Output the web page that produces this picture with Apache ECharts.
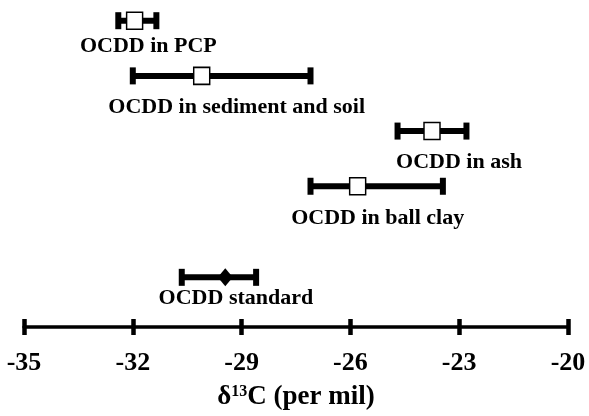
<!DOCTYPE html>
<html>
<head>
<meta charset="utf-8">
<script src="https://cdn.jsdelivr.net/npm/echarts@6/dist/echarts.min.js"></script>
<style>
html,body{margin:0;padding:0;background:#fff;}
#c{width:589px;height:416px;}
</style>
</head>
<body>
<div id="c"></div>
<script>
// ---- data ----
var categories = ['OCDD in PCP', 'OCDD in sediment and soil', 'OCDD in ash', 'OCDD in ball clay', 'OCDD standard'];
var lowValues  = [-32.40, -32.00, -24.70, -27.10, -30.65];
var meanValues = [-31.95, -30.10, -23.75, -25.80, -29.45];
var highValues = [-31.35, -27.10, -22.80, -23.45, -28.60];
var rowLevel   = [5, 4, 3, 2, 0.35];
var markerType = ['open', 'open', 'open', 'open', 'filled'];
var xTicks = [-35, -32, -29, -26, -23, -20];

// ---- layout / style ----
var FONT = '"Liberation Serif", "Times New Roman", serif';
var labelDx = [11, 15, 27, 1, 17];
var labelDy = [26, 31, 31, 32, 21];

var chart = echarts.init(document.getElementById('c'), null, {renderer: 'canvas'});

var barData = categories.map(function (c, i) {
  return [lowValues[i], highValues[i], rowLevel[i], i];
});
var openPts = [], filledPts = [];
categories.forEach(function (c, i) {
  if (markerType[i] === 'open') openPts.push([meanValues[i], rowLevel[i]]);
  else filledPts.push([meanValues[i], rowLevel[i]]);
});

function renderBar(params, api) {
  var lo = api.coord([api.value(0), api.value(2)]);
  var hi = api.coord([api.value(1), api.value(2)]);
  var idx = api.value(3);
  var y = lo[1];
  var capH = 17, capW = 6;
  var cx = (lo[0] + hi[0]) / 2;
  return {
    type: 'group',
    children: [
      {type: 'line', shape: {x1: lo[0], y1: y, x2: hi[0], y2: y}, style: {stroke: '#000', lineWidth: 6}},
      {type: 'rect', shape: {x: lo[0] - capW / 2, y: y - capH / 2, width: capW, height: capH}, style: {fill: '#000'}},
      {type: 'rect', shape: {x: hi[0] - capW / 2, y: y - capH / 2, width: capW, height: capH}, style: {fill: '#000'}},
      {type: 'text', x: cx + labelDx[idx], y: y + labelDy[idx], style: {
        text: categories[idx], fill: '#000', font: 'bold 22px ' + FONT,
        align: 'center', verticalAlign: 'middle'
      }}
    ]
  };
}

var option = {
  backgroundColor: '#fff',
  animation: false,
  grid: {left: 24, right: 21, top: 0, bottom: 86, containLabel: false},
  xAxis: [{
    type: 'value', min: -35, max: -20, interval: 3, position: 'bottom',
    axisLine: {show: true, onZero: false, lineStyle: {color: '#000', width: 3.5}},
    axisTick: {show: true, inside: false, length: 8, lineStyle: {color: '#000', width: 4.5}},
    axisLabel: {show: true, margin: 23, color: '#000', fontFamily: FONT, fontWeight: 'bold', fontSize: 26,
      formatter: function (v) { return xTicks.indexOf(v) >= 0 ? String(v) : ''; }},
    splitLine: {show: false},
    name: '{a|δ}{s|13}{a|C (per mil)}',
    nameLocation: 'middle', nameGap: 57,
    nameTextStyle: {
      color: '#000',
      rich: {
        a: {fontFamily: FONT, fontWeight: 'bold', fontSize: 27, color: '#000'},
        s: {fontFamily: FONT, fontWeight: 'bold', fontSize: 16, color: '#000', padding: [0, 0, 11, 0]}
      }
    }
  }, {
    type: 'value', min: -35, max: -20, interval: 3, position: 'bottom',
    axisLine: {show: false, onZero: false},
    axisTick: {show: true, inside: true, length: 8, lineStyle: {color: '#000', width: 4.5}},
    axisLabel: {show: false},
    splitLine: {show: false}
  }],
  yAxis: {
    type: 'value', min: -0.55, max: 5.375, show: false,
    axisLine: {show: false}, axisTick: {show: false}, axisLabel: {show: false}, splitLine: {show: false}
  },
  series: [{
    type: 'custom',
    renderItem: renderBar,
    data: barData,
    encode: {x: [0, 1], y: 2},
    z: 2
  }, {
    type: 'scatter',
    data: openPts,
    symbol: 'rect',
    symbolSize: [16, 17],
    itemStyle: {color: '#fff', borderColor: '#000', borderWidth: 1.5, opacity: 1},
    z: 3
  }, {
    type: 'scatter',
    data: filledPts,
    symbol: 'diamond',
    symbolSize: [15, 18],
    itemStyle: {color: '#000', opacity: 1},
    z: 3
  }]
};
chart.setOption(option);
</script>
</body>
</html>
